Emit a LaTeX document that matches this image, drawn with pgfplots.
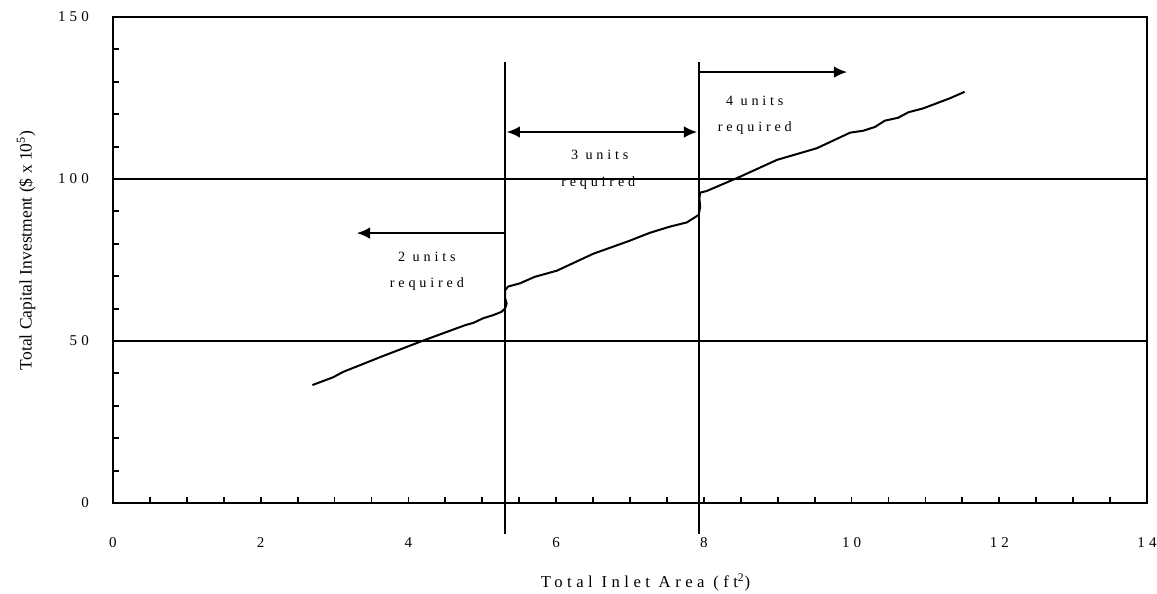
\documentclass[border=0pt]{standalone}
\usepackage{fontspec}
\setmainfont{Liberation Serif}
\newfontfamily\spacedfont[LetterSpace=27]{Liberation Serif}
\usepackage{pgfplots}
\pgfplotsset{compat=1.18}
\usetikzlibrary{arrows.meta}
\begin{document}
\begin{tikzpicture}
\useasboundingbox (-67.8pt,-54.6pt) rectangle (626.4pt,301.8pt);
\begin{axis}[
  scale only axis, width=620.4pt, height=291.6pt,
  xmin=0, xmax=14, ymin=0, ymax=150,
  xtick={0,2,...,14}, minor xtick={0,0.5,...,14},
  ytick={0,50,100,150}, minor ytick={0,10,...,150},
  tick align=inside, tick pos=left,
  major tick length=3.6pt, minor tick length=3.6pt,
  tick style={black, line width=1.1pt},
  axis line style={line width=1.2pt},
  ymajorgrids, grid style={black, line width=1.1pt},
  /pgf/number format/assume math mode=true,
  ticklabel style={font=\spacedfont\fontsize{9}{10}\selectfont},
  xticklabel style={yshift=-17pt},
  yticklabel style={xshift=-11pt},
  xlabel={Total Inlet Area (ft\textsuperscript{2})},
  xlabel style={font=\spacedfont\fontsize{10}{12}\selectfont, at={(axis description cs:0.515,-0.1626)}, anchor=center},
  ylabel={Total Capital Investment (\$ x 10\textsuperscript{5})},
  ylabel style={font=\fontsize{10.5}{12}\selectfont, at={(axis description cs:-0.084,0.52)}, anchor=center, rotate=0},
  clip=false,
]
% cost curve
\addplot[black, line width=1.2pt, line join=round] coordinates {
(2.70,36.4) (2.98,38.8) (3.12,40.5) (3.66,45.4) (4.22,50.3) (4.77,54.9)
(4.88,55.6) (5.01,57.0) (5.15,58.0) (5.26,59.0) (5.31,60.1) (5.33,61.6)
(5.31,63.2) (5.31,65.7) (5.35,66.8) (5.51,67.8) (5.71,69.8) (6.01,71.7)
(6.50,76.9) (6.99,80.9) (7.27,83.4) (7.54,85.3) (7.77,86.6) (7.86,87.9)
(7.93,88.9) (7.95,91.5) (7.94,94.0) (7.95,95.8) (8.04,96.3) (8.49,100.7)
(8.99,105.9) (9.53,109.5) (9.98,114.3) (10.16,114.9) (10.32,116.1)
(10.45,118.0) (10.63,118.9) (10.77,120.6) (10.97,121.8) (11.33,124.9) (11.53,126.9)
};
% vertical divider lines
\addplot[black, line width=1.2pt] coordinates {(5.31,136.1) (5.31,-9.6)};
\addplot[black, line width=1.2pt] coordinates {(7.93,136.1) (7.93,-9.6)};
% arrows
\addplot[black, line width=1.2pt, -{Latex[length=8pt,width=7pt]}] coordinates {(5.31,83.3) (3.30,83.3)};
\addplot[black, line width=1.2pt, {Latex[length=8pt,width=7pt]}-{Latex[length=8pt,width=7pt]}] coordinates {(5.33,114.5) (7.91,114.5)};
\addplot[black, line width=1.2pt, -{Latex[length=8pt,width=7pt]}] coordinates {(7.93,133.0) (9.94,133.0)};
% annotations
\node[font=\spacedfont\fontsize{8.5}{10}\selectfont] at (axis cs:4.25,75.9) {2 units};
\node[font=\spacedfont\fontsize{8.5}{10}\selectfont] at (axis cs:4.25,67.6) {required};
\node[font=\spacedfont\fontsize{8.5}{10}\selectfont] at (axis cs:6.59,107.4) {3 units};
\node[font=\spacedfont\fontsize{8.5}{10}\selectfont] at (axis cs:6.57,98.8) {required};
\node[font=\spacedfont\fontsize{8.5}{10}\selectfont] at (axis cs:8.69,124.1) {4 units};
\node[font=\spacedfont\fontsize{8.5}{10}\selectfont] at (axis cs:8.69,115.7) {required};
\end{axis}
\end{tikzpicture}
\end{document}
